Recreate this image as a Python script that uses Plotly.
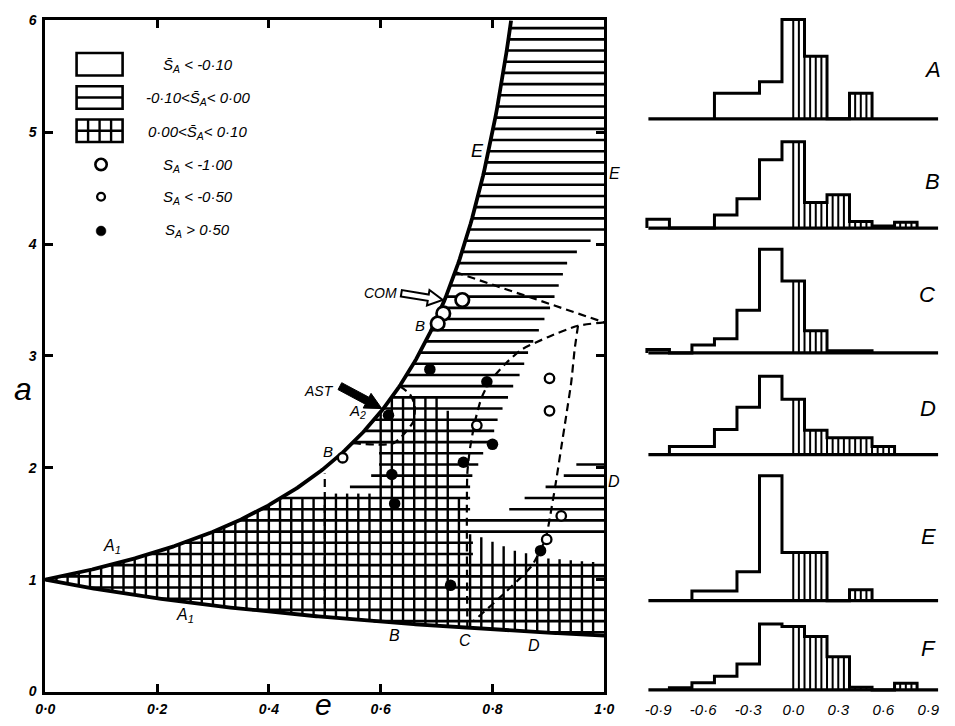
import numpy as np
import plotly.graph_objects as go

W, H = 955, 726
FONT = "Liberation Sans"

# ---------------- main panel : data ----------------
e_tickvals = [0.0, 0.2, 0.4, 0.6, 0.8, 1.0]
e_ticktext = ["0·0", "0·2", "0·4", "0·6", "0·8", "1·0"]
a_tickvals = [0, 1, 2, 3, 4, 5, 6]
a_ticktext = ["0", "1", "2", "3", "4", "5", "6"]

q_earth = 1.0   # perihelion boundary  a = q/(1-e)
Q_earth = 1.0   # aphelion boundary    a = Q/(1+e)

# region outlines, ("U", e0, e1) follows the perihelion curve, ("L", e0, e1) the aphelion curve
horiz_region = [("U", 0.0, 0.432), (0.535, 1.76), (0.545, 1.80), (0.545, 1.87), (0.583, 1.88),
                (0.583, 1.97), (0.597, 1.98), (0.597, 2.19), (0.546, 2.19), ("U", 0.5466, 0.8333),
                (1.0, 6.0), (1.0, 4.10), (0.965, 4.0), (0.935, 3.85), (0.92, 3.65), (0.905, 3.45),
                (0.885, 3.25), (0.865, 3.05), (0.852, 2.86), (0.838, 2.74), (0.825, 2.60),
                (0.815, 2.50), (0.805, 2.38), (0.80, 2.25), (0.785, 2.15), (0.777, 2.05),
                (0.765, 1.95), (0.76, 1.85), (0.76, 1.58), (0.82, 1.58), (0.84, 1.68),
                (0.875, 1.78), (0.915, 1.88), (0.94, 1.98), (0.96, 2.08), (1.0, 2.08),
                (1.0, 1.38), (0.765, 1.38), (0.765, 1.18), (1.0, 1.18), ("L", 1.0, 0.0)]
vert_region = [("U", 0.0, 0.4220), (0.51, 1.73), (0.51, 1.77), (0.59, 1.77), ("U", 0.59, 0.621),
               (0.71, 2.64), (0.71, 2.51), (0.73, 2.51), (0.73, 1.73), (0.75, 1.73), (0.75, 1.42),
               (0.78, 1.38), (0.84, 1.26), (0.90, 1.19), (1.0, 1.15), ("L", 1.0, 0.0)]
row_a = [0.03 + 0.1 * k for k in range(60)]        # horizontal hatch rows
col_e = [0.02 * k for k in range(1, 50)]           # vertical hatch columns

dash_E = [(0.7333, 3.75), (1.0, 3.30)]
dash_C = [(1.0, 3.30), (0.953, 3.27), (0.90, 3.17), (0.853, 3.06), (0.825, 2.94), (0.795, 2.77),
          (0.78, 2.62), (0.769, 2.42), (0.760, 2.18), (0.755, 1.95), (0.755, 0.570)]
dash_D = [(0.953, 3.27), (0.947, 3.06), (0.941, 2.77), (0.932, 2.47), (0.923, 2.18), (0.915, 1.92),
          (0.906, 1.65), (0.895, 1.37), (0.871, 1.13), (0.813, 0.84), (0.766, 0.63)]
dash_A2 = [(0.5495, 2.22), (0.623, 2.22), (0.658, 2.41), (0.661, 2.56), (0.652, 2.66), (0.634, 2.73)]
dash_B = [(0.5, 0.667), (0.5, 1.95)]

big_open_e = [0.746, 0.712, 0.702]
big_open_a = [3.50, 3.38, 3.29]
small_open_e = [0.902, 0.902, 0.772, 0.532, 0.923, 0.897]
small_open_a = [2.80, 2.51, 2.38, 2.09, 1.57, 1.36]
filled_e = [0.688, 0.790, 0.614, 0.800, 0.748, 0.620, 0.625, 0.725, 0.886]
filled_a = [2.88, 2.77, 2.47, 2.21, 2.05, 1.94, 1.68, 0.95, 1.26]

# text labels (text, e, a, size)
main_labels = [("E", 0.774, 4.83, 18), ("COM", 0.599, 3.56, 14), ("B", 0.67, 3.27, 15),
               ("AST", 0.489, 2.69, 14), ("A<sub>2</sub>", 0.559, 2.50, 15), ("B", 0.506, 2.15, 15),
               ("A<sub>1</sub>", 0.12, 1.30, 16), ("A<sub>1</sub>", 0.25, 0.68, 16),
               ("B", 0.625, 0.50, 16), ("C", 0.75, 0.46, 16), ("D", 0.874, 0.41, 16)]
edge_labels = [("E", 4.63), ("D", 1.88)]     # right of the e = 1 border
com_arrow = [(0.637, 3.56), (0.711, 3.50)]
ast_arrow = [(0.527, 2.73), (0.602, 2.53)]

# ---------------- histograms : data ----------------
hist_centers = [-0.9, -0.75, -0.6, -0.45, -0.3, -0.15, 0.0, 0.15, 0.3, 0.45, 0.6, 0.75]
hist_width = 0.15
hist_A = [0, 0, 0, 9.2, 9.2, 13.4, 35.9, 22.6, 0, 9.2, 0, 0]
hist_B = [3.2, 0, 0, 4.7, 10.6, 24.7, 31.2, 9.2, 12.0, 2.4, 0.7, 2.1]
hist_C = [1.2, 0, 2.9, 5.1, 15.4, 37.5, 26.0, 8.0, 0.8, 0.8, 0, 0]
hist_D = [0, 2.9, 2.9, 9.1, 17.1, 28.3, 20.0, 8.8, 6.1, 6.1, 2.9, 0]
hist_E = [0, 0, 3.5, 3.5, 10.4, 45.1, 17.4, 17.4, 0, 3.9, 0, 0]
hist_F = [0, 0.8, 2.6, 4.9, 9.4, 23.8, 22.9, 19.3, 12.0, 1.0, 0, 2.4]
hist_names = ["A", "B", "C", "D", "E", "F"]
hist_tickvals = [-0.9, -0.6, -0.3, 0.0, 0.3, 0.6, 0.9]
hist_ticktext = ["-0·9", "-0·6", "-0·3", "0·0", "0·3", "0·6", "0·9"]

# ---------------- layout geometry (pixels) ----------------
MX0, MX1, MY0, MY6 = 36.0, 607.0, 699.0, 12.6
HX0, HX1 = 640.0, 955.0
H_ZERO_PX, H_PX_PER_UNIT = 800.0, 153.3
H_PX_PER_PCT = 2.83
hist_base_px = [113.3, 225.0, 352.7, 456.7, 606.0, 697.3]
hist_label_px = [(942, 63), (942, 177), (937, 293), (938, 410), (938, 540), (938, 655)]


def px2e(px):
    return (px - MX0) / (MX1 - MX0)


def py2a(py):
    return (MY0 - py) / (MY0 - MY6) * 6.0


def e2px(e):
    return MX0 + e * (MX1 - MX0)


def a2py(a):
    return MY0 - a / 6.0 * (MY0 - MY6)


def curve(kind, e0, e1, n=150):
    es = np.linspace(e0, e1, n)
    if kind == "U":
        return np.column_stack([es, q_earth / (1 - es)])
    return np.column_stack([es, Q_earth / (1 + es)])


def build(outline):
    pts = []
    for item in outline:
        if isinstance(item[0], str):
            pts.extend(curve(*item).tolist())
        else:
            pts.append(list(item))
    return np.array(pts, dtype=float)


def scan(poly, levels, axis):
    P_ = poly
    Q_ = np.roll(poly, -1, axis=0)
    o = 1 - axis
    xs_out, ys_out = [], []
    for c in levels:
        v1, v2 = P_[:, axis], Q_[:, axis]
        m = ((v1 <= c) & (v2 > c)) | ((v2 <= c) & (v1 > c))
        t = (c - v1[m]) / (v2[m] - v1[m])
        cut = np.sort(P_[m, o] + t * (Q_[m, o] - P_[m, o]))
        for k in range(0, len(cut) - 1, 2):
            if axis == 1:
                xs_out += [cut[k], cut[k + 1], None]
                ys_out += [c, c, None]
            else:
                xs_out += [c, c, None]
                ys_out += [cut[k], cut[k + 1], None]
    return xs_out, ys_out


fig = go.Figure()

# hatching
hx, hy = scan(build(horiz_region), row_a, 1)
vx, vy = scan(build(vert_region), col_e, 0)
fig.add_trace(go.Scatter(x=hx, y=hy, mode="lines", line=dict(color="black", width=2.6),
                         hoverinfo="skip", showlegend=False))
fig.add_trace(go.Scatter(x=vx, y=vy, mode="lines", line=dict(color="black", width=2.4),
                         hoverinfo="skip", showlegend=False))

# boundary curves
for kind, e1 in (("U", 0.8333), ("L", 1.0)):
    c = curve(kind, 0.0, e1, 300)
    fig.add_trace(go.Scatter(x=c[:, 0], y=c[:, 1], mode="lines",
                             line=dict(color="black", width=3.8), hoverinfo="skip", showlegend=False))

# dashed region boundaries
for d in (dash_E, dash_C, dash_D, dash_A2, dash_B):
    fig.add_trace(go.Scatter(x=[p[0] for p in d], y=[p[1] for p in d], mode="lines",
                             line=dict(color="black", width=2.2, dash="8px,5px", shape="spline",
                                       smoothing=0.6),
                             hoverinfo="skip", showlegend=False))

# points
fig.add_trace(go.Scatter(x=big_open_e, y=big_open_a, mode="markers",
                         marker=dict(symbol="circle", size=13.5, color="white",
                                     line=dict(color="black", width=2.7)), showlegend=False))
fig.add_trace(go.Scatter(x=small_open_e, y=small_open_a, mode="markers",
                         marker=dict(symbol="circle", size=9.5, color="white",
                                     line=dict(color="black", width=2.3)), showlegend=False))
fig.add_trace(go.Scatter(x=filled_e, y=filled_a, mode="markers",
                         marker=dict(symbol="circle", size=11.5, color="black",
                                     line=dict(color="black", width=0)), showlegend=False))


# block arrows
def arrow_path(tail, tip, hw_s, hw_h, head_len):
    T = np.array([e2px(tail[0]), a2py(tail[1])])
    Pt = np.array([e2px(tip[0]), a2py(tip[1])])
    d = (Pt - T) / np.linalg.norm(Pt - T)
    n = np.array([-d[1], d[0]])
    B = Pt - d * head_len
    pts = [T + n * hw_s, B + n * hw_s, B + n * hw_h, Pt, B - n * hw_h, B - n * hw_s, T - n * hw_s]
    s = " ".join(("M" if i == 0 else "L") + f"{px2e(p[0]):.5f},{py2a(p[1]):.5f}" for i, p in enumerate(pts))
    return s + " Z"


shapes = []
shapes.append(dict(type="path", xref="x", yref="y", path=arrow_path(com_arrow[0], com_arrow[1], 3.3, 8, 15),
                   fillcolor="white", line=dict(color="black", width=2)))
shapes.append(dict(type="path", xref="x", yref="y", path=arrow_path(ast_arrow[0], ast_arrow[1], 4, 8.5, 17),
                   fillcolor="black", line=dict(color="black", width=1)))


# ---------------- legend (drawn) ----------------
def P(px, py):
    return px / W, 1 - py / H


def rect(px0, py0, px1, py1, width=2.6):
    x0, y1 = P(px0, py0)
    x1, y0 = P(px1, py1)
    return dict(type="rect", xref="paper", yref="paper", x0=x0, y0=y0, x1=x1, y1=y1,
                line=dict(color="black", width=width), fillcolor="white")


def seg(px0, py0, px1, py1, width=2.4):
    x0, y0 = P(px0, py0)
    x1, y1 = P(px1, py1)
    return dict(type="line", xref="paper", yref="paper", x0=x0, y0=y0, x1=x1, y1=y1,
                line=dict(color="black", width=width))


def circ(cx, cy, r, fill, lw):
    x0, y1 = P(cx - r, cy - r)
    x1, y0 = P(cx + r, cy + r)
    return dict(type="circle", xref="paper", yref="paper", x0=x0, y0=y0, x1=x1, y1=y1,
                fillcolor=fill, line=dict(color="black", width=lw))


shapes.append(rect(68, 46, 115, 69))
shapes.append(rect(68, 80, 115, 103))
shapes.append(seg(68, 91.5, 115, 91.5))
shapes.append(rect(68, 114, 115, 137))
shapes.append(seg(68, 125.5, 115, 125.5))
for xv in (79.75, 91.5, 103.25):
    shapes.append(seg(xv, 114, xv, 137))
shapes.append(circ(93, 160, 5.8, "white", 2.6))
shapes.append(circ(93, 193, 4.0, "white", 2.3))
shapes.append(circ(93, 228, 5.0, "black", 0.5))

legend_texts = ["S\u0304<sub>A</sub> < -0·10", "-0·10<S\u0304<sub>A</sub>< 0·00", "0·00<S\u0304<sub>A</sub>< 0·10",
                "S<sub>A</sub> < -1·00", "S<sub>A</sub> < -0·50", "S<sub>A</sub> > 0·50"]
legend_py = [59, 93, 127, 161, 194, 228]


def note(text, x, y, size, xref="paper", yref="paper"):
    return dict(text=text, x=x, y=y, xref=xref, yref=yref, showarrow=False,
                xanchor="center", yanchor="middle",
                font=dict(family=FONT, size=size, color="black", style="italic"))


annotations = []
for t, py in zip(legend_texts, legend_py):
    annotations.append(note(t, *P(192, py), 15))

for t, e, a, s in main_labels:
    annotations.append(note(t, e, a, s, "x", "y"))
for t, a in edge_labels:
    annotations.append(note(t, *P(617, a2py(a)), 16))
# axis titles
annotations.append(note("e", *P(320, 712), 30))
annotations.append(note("a", *P(13, 390), 32))

# ---------------- histograms ----------------
hist_sets = [hist_A, hist_B, hist_C, hist_D, hist_E, hist_F]
h_range = [(HX0 - H_ZERO_PX) / H_PX_PER_UNIT, (HX1 - H_ZERO_PX) / H_PX_PER_UNIT]
layout_axes = {}
for i, (vals, name) in enumerate(zip(hist_sets, hist_names)):
    n = i + 2
    xa, ya = f"x{n}", f"y{n}"
    lo_pad = 1.5
    y0 = (H - (hist_base_px[i] + lo_pad * H_PX_PER_PCT)) / H
    y1 = min(1.0, y0 + 50 * H_PX_PER_PCT / H)
    top = (y1 - y0) * H / H_PX_PER_PCT - lo_pad

    # step outline
    xs, ys = [], []
    first = next(k for k, v in enumerate(vals) if v > 0)
    last = max(k for k, v in enumerate(vals) if v > 0)
    xs.append(hist_centers[first] - hist_width / 2)
    ys.append(0)
    for k in range(first, last + 1):
        xs += [hist_centers[k] - hist_width / 2, hist_centers[k] + hist_width / 2]
        ys += [vals[k], vals[k]]
    xs.append(hist_centers[last] + hist_width / 2)
    ys.append(0)

    # hatching of positive values
    hxs, hys = [], []
    step = hist_width / 4
    v = 0.0
    while v < hist_centers[-1] + hist_width / 2:
        k = int(np.floor((v - (hist_centers[0] - hist_width / 2)) / hist_width + 1e-9))
        k = min(k, len(vals) - 1)
        if vals[k] > 0:
            hxs += [v, v, None]
            hys += [0, vals[k], None]
        v += step

    fig.add_trace(go.Scatter(x=hxs, y=hys, mode="lines", line=dict(color="black", width=2),
                             xaxis=xa, yaxis=ya, hoverinfo="skip", showlegend=False))
    fig.add_trace(go.Scatter(x=xs, y=ys, mode="lines", line=dict(color="black", width=3),
                             xaxis=xa, yaxis=ya, hoverinfo="skip", showlegend=False))
    fig.add_trace(go.Scatter(x=[-0.965, 0.965], y=[0, 0], mode="lines",
                             line=dict(color="black", width=3.2),
                             xaxis=xa, yaxis=ya, hoverinfo="skip", showlegend=False))

    xaxis = dict(domain=[HX0 / W, HX1 / W], range=h_range, anchor=ya, showgrid=False,
                 zeroline=False, showline=False, ticks="", fixedrange=True)
    if name == "F":
        xaxis.update(visible=True, showticklabels=True, tickvals=hist_tickvals, ticktext=hist_ticktext,
                     ticklabelstandoff=5,
                     tickfont=dict(family=FONT, size=15, color="black", style="italic"))
    else:
        xaxis.update(visible=False)
    layout_axes[f"xaxis{n}"] = xaxis
    layout_axes[f"yaxis{n}"] = dict(domain=[y0, y1], range=[-lo_pad, top], anchor=xa, visible=False,
                                    fixedrange=True)
    annotations.append(note(name, *P(*hist_label_px[i]), 22))

axis_common = dict(showgrid=False, zeroline=False, showline=True, linecolor="black", linewidth=3,
                   mirror="ticks", ticks="inside", ticklen=8, tickwidth=2.5, tickcolor="black",
                   tickfont=dict(family=FONT, size=14, color="black", style="italic", weight="bold"))

fig.update_layout(
    width=W, height=H, margin=dict(l=0, r=0, t=0, b=0),
    paper_bgcolor="white", plot_bgcolor="rgba(0,0,0,0)",
    showlegend=False,
    xaxis=dict(domain=[MX0 / W, MX1 / W], range=[0, 1], tickvals=e_tickvals, ticktext=e_ticktext,
               ticklabelstandoff=3, **axis_common),
    yaxis=dict(domain=[(H - MY0) / H, (H - MY6) / H], range=[0, 6], tickvals=a_tickvals,
               ticktext=a_ticktext, ticklabelstandoff=3, **axis_common),
    shapes=shapes,
    annotations=annotations,
    **layout_axes,
)

fig.write_html("out.html")
